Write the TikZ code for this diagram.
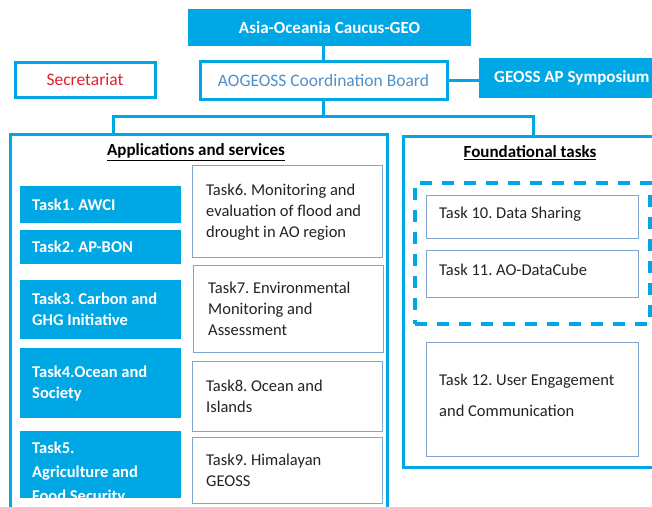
\documentclass[tikz,border=0pt]{standalone}
\usepackage{fontspec}
\setmainfont{Carlito}
\frenchspacing
\usetikzlibrary{calc}
\definecolor{aoc}{RGB}{0,167,229}
\definecolor{boxgray}{RGB}{130,165,205}
\definecolor{secred}{RGB}{228,30,45}
\definecolor{boardblue}{RGB}{80,145,200}
\definecolor{txt}{RGB}{35,35,35}
\tikzset{
  cyanbox/.style={fill=aoc, draw=none, text=white, font=\fontsize{17}{21}\selectfont\bfseries, inner sep=0pt},
  cframe/.style={draw=aoc, line width=3pt, fill=white, inner sep=0pt},
  leftbox/.style={fill=aoc, draw=none, minimum width=161pt, inner sep=0pt, anchor=north west},
  rightbox/.style={fill=white, draw=boxgray, line width=0.9pt, minimum width=190pt, inner sep=0pt, anchor=north west},
  fbox/.style={fill=white, draw=boxgray, line width=0.9pt, minimum width=212pt, inner sep=0pt, anchor=north west},
  ltext/.style={text=white, font=\fontsize{16.5}{21}\selectfont\bfseries, inner sep=0pt, align=left, anchor=west},
  rtext/.style={text=txt, font=\fontsize{16.5}{21}\selectfont, inner sep=0pt, align=left, anchor=west},
  conn/.style={draw=aoc, line width=3pt},
  heading/.style={font=\fontsize{17}{20}\selectfont\bfseries, text=black, inner sep=0pt}
}
\begin{document}
\begin{tikzpicture}[x=1pt,y=-1pt]
\path[use as bounding box] (0,0) rectangle (652,506);
\fill[white] (0,0) rectangle (652,506);

% top level
\node[cyanbox, minimum width=283pt, minimum height=37pt] (caucus) at (329.5,27.5) {Asia-Oceania Caucus-GEO};
\node[cframe, minimum width=140pt, minimum height=35pt, text=secred, font=\fontsize{17.5}{21}\selectfont] (sec) at (85,79.5) {Secretariat};
\node[cframe, minimum width=247pt, minimum height=38pt, text=boardblue, font=\fontsize{17.5}{21}\selectfont] (board) at (323.5,80) {AOGEOSS Coordination Board};
\node[cyanbox, minimum width=173pt, minimum height=40pt, anchor=north west] (geoss) at (479,58) {};
\node[cyanbox, anchor=west] (geosst) at ($(geoss.west)+(15,0)$) {GEOSS AP Symposium};

% frames (extend past the picture's right and bottom edges, as in the reference)
\begin{scope}
\clip (0,0) rectangle (652,506);
\node[cframe, minimum width=377pt, minimum height=385pt, anchor=north west] (lf) at (9,133) {};
\node[cframe, minimum width=263pt, minimum height=331pt, anchor=north west] (rf) at (402,135) {};
\end{scope}

% connectors
\coordinate (jl) at (113,116);
\coordinate (jr) at (533,116);
\coordinate (jb) at (323.5,116);
\draw[conn] (caucus.south -| board.north) -- (board.north);
\draw[conn] (board.east) -- (board.east -| geoss.west);
\draw[conn] (board.south) -- (jb);
\draw[conn, line join=miter] (lf.north -| jl) -- (jl) -- (jr) -- (rf.north -| jr);

% headings
\node[heading] (ha) at (196,152) {\underline{Applications and services}};
\node[heading] (hf) at (530,153) {\underline{Foundational tasks}};

% left column
\node[leftbox, minimum height=37pt] (t1) at (20,186) {};
\node[ltext] (t1t) at ($(t1.west)+(12,0)$) {Task1. AWCI};
\node[leftbox, minimum height=34pt] (t2) at (20,230) {};
\node[ltext] (t2t) at ($(t2.west)+(12,0)$) {Task2. AP-BON};
\node[leftbox, minimum height=59pt] (t3) at (20,280) {};
\node[ltext] (t3t) at ($(t3.west)+(12,0)$) {Task3. Carbon and\\GHG Initiative};
\node[leftbox, minimum height=70pt] (t4) at (20,348) {};
\node[ltext] (t4t) at ($(t4.west)+(12,0)$) {Task4.Ocean and\\Society};
\node[leftbox, minimum height=67pt] (t5) at (20,431) {};
\begin{scope}
  \clip (t5.north west) rectangle (t5.south east);
  \node[ltext, font=\fontsize{16.5}{24}\selectfont\bfseries, anchor=north west] (t5t) at (32,442) {Task5.\\Agriculture and\\Food Security};
\end{scope}

% right column
\node[rightbox, minimum height=92pt] (t6) at (192,165) {};
\node[rtext] (t6t) at ($(t6.west)+(14,1)$) {Task6. Monitoring and\\evaluation of flood and\\drought in AO region};
\node[rightbox, minimum height=87pt] (t7) at (193,265) {};
\node[rtext] (t7t) at ($(t7.west)+(15,0)$) {Task7. Environmental\\Monitoring and\\Assessment};
\node[rightbox, minimum height=70pt] (t8) at (192,361) {};
\node[rtext] (t8t) at ($(t8.west)+(14,0)$) {Task8. Ocean and\\Islands};
\node[rightbox, minimum height=66pt] (t9) at (192,437) {};
\node[rtext] (t9t) at ($(t9.west)+(14,0)$) {Task9. Himalayan\\GEOSS};

% foundational
\node[draw=aoc, line width=3.5pt, dash pattern=on 12pt off 10pt, minimum width=235pt, minimum height=141pt, anchor=north west, inner sep=0pt] (dash) at (413,181) {};
\node[fbox, minimum height=43pt] (t10) at (426,195) {};
\node[rtext] (t10t) at ($(t10.west)+(13,-3)$) {Task 10. Data Sharing};
\node[fbox, minimum height=47pt] (t11) at (426,250) {};
\node[rtext] (t11t) at ($(t11.west)+(13,-4)$) {Task 11. AO-DataCube};
\node[fbox, minimum height=114pt] (t12) at (426,342) {};
\node[rtext, font=\fontsize{16.5}{31}\selectfont] (t12t) at ($(t12.west)+(13,-4)$) {Task 12. User Engagement\\and Communication};
\end{tikzpicture}
\end{document}
